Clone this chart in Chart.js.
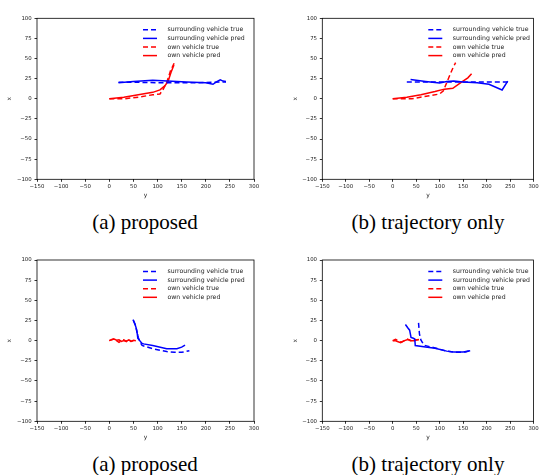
<!DOCTYPE html>
<html>
<head>
<meta charset="utf-8">
<script src="https://cdn.jsdelivr.net/npm/chart.js@4.4.1/dist/chart.umd.min.js"></script>
<style>
  body { margin: 0; background: #fff; }
  #wrap { position: relative; width: 540px; height: 475px; overflow: hidden; }
  canvas { position: absolute; }
  .cap { position: absolute; font-family: "Liberation Serif", serif; font-size: 21px; color: #000;
         transform: translate(-50%, -50%); white-space: nowrap; }
</style>
</head>
<body>
<div id="wrap">
  <canvas id="c1" width="270" height="200" style="left:0;top:0"></canvas>
  <canvas id="c2" width="270" height="200" style="left:270px;top:0"></canvas>
  <canvas id="c3" width="270" height="200" style="left:0;top:242px"></canvas>
  <canvas id="c4" width="270" height="200" style="left:270px;top:242px"></canvas>
  <div class="cap" style="left:145px;top:222px">(a) proposed</div>
  <div class="cap" style="left:428px;top:222px">(b) trajectory only</div>
  <div class="cap" style="left:145px;top:464px">(a) proposed</div>
  <div class="cap" style="left:428px;top:464px">(b) trajectory only</div>
</div>
<script>
// axis ticks (horizontal axis is "y", vertical axis is "x")
const yAxisTicks = [-150, -100, -50, 0, 50, 100, 150, 200, 250, 300];
const xAxisTicks = [-100, -75, -50, -25, 0, 25, 50, 75, 100];
const seriesNames = ['surrounding vehicle true', 'surrounding vehicle pred', 'own vehicle true', 'own vehicle pred'];

// points as [y, x]
// scenario 1, proposed
const s1PropSurrTrue = [[19, 20.5], [60, 20.5], [100, 20], [140, 20], [180, 20], [215, 20.5], [242, 21]];
const s1PropSurrPred = [[19, 20], [50, 21.5], [90, 23], [120, 22], [160, 21], [200, 20], [215, 18], [222, 21], [230, 23.5], [236, 22], [242, 21.5]];
const s1PropOwnTrue = [[0, 0], [30, 0], [60, 2], [90, 5], [105, 6], [112, 12], [120, 22], [127, 35], [135, 45]];
const s1PropOwnPred = [[0, 0], [30, 2], [60, 5], [90, 8], [105, 11], [115, 16], [122, 22], [128, 33], [134, 42]];
// scenario 1, trajectory only
const s1TrajSurrTrue = [[30, 21], [80, 21], [130, 21], [180, 21], [245, 21]];
const s1TrajSurrPred = [[38, 24], [70, 21.5], [100, 19.5], [115, 21.5], [130, 22], [150, 21], [180, 20], [205, 18], [233, 11], [245, 22]];
const s1TrajOwnTrue = [[0, 0], [40, 0], [80, 4], [100, 6], [108, 10], [115, 20], [122, 30], [128, 38], [134, 45]];
const s1TrajOwnPred = [[0, 0], [30, 2], [60, 5], [90, 9], [110, 12], [128, 13], [145, 20], [160, 26], [168, 31]];
// scenario 2, proposed
const s2PropSurrTrue = [[50, 25], [54, 19], [57, 12], [60, 4], [64, -2], [68, -6], [90, -10], [119, -13.5], [135, -14.5], [150, -14.5], [166, -12.5]];
const s2PropSurrPred = [[49, 26], [53, 21], [56, 15], [58, 8], [59, 3], [63, 0], [67, -3], [71, -4], [90, -6], [119, -10], [140, -10], [150, -8], [157, -5.5]];
const s2PropOwnTrue = [[0, 0], [5, 1], [10, 2.5], [15, 0], [20, -2], [25, 0], [30, 1], [35, -1], [40, 2], [45, -1], [50, 0], [53, 0]];
const s2PropOwnPred = [[0, 0], [5, 1.5], [10, 2], [15, 0.5], [20, 1], [25, -1], [30, 0], [35, -1], [40, 1], [45, -1], [50, 0.5], [55, 0]];
// scenario 2, trajectory only
const s2TrajSurrTrue = [[55, 22], [56, 15], [57, 8], [60, 1], [64, -3], [68, -6], [90, -9], [115, -13], [135, -14.5], [155, -14], [165, -12.5]];
const s2TrajSurrPred = [[27, 20], [32, 16], [36, 13], [39, 4], [44, 3], [47, 2], [48, -6], [70, -8], [90, -9.5], [115, -13], [130, -14], [150, -14], [165, -12.5]];
const s2TrajOwnTrue = [[0, 0], [6, 1.5], [12, 0], [18, -2], [25, 0], [30, 2], [36, 1], [42, -1], [48, 1], [55, 1]];
const s2TrajOwnPred = [[0, 0], [5, 0], [10, -1], [17, -2.5], [25, 0], [32, 1.5], [38, 0], [46, 0], [52, 1], [56, 1.5]];

const toPts = arr => arr.map(([h, v]) => ({x: h, y: v}));
const minus = v => String(v).replace('-', '\u2212');

// legend in the upper right of the plot, plus the full axes frame
const cornerLegend = {
  id: 'cornerLegend',
  afterDraw(chart) {
    const {ctx, chartArea: a} = chart;
    ctx.save();
    ctx.lineWidth = 0.8;
    ctx.strokeStyle = '#000';
    ctx.strokeRect(a.left, a.top, a.right - a.left, a.bottom - a.top);
    ctx.font = '6.2px "DejaVu Sans"';
    ctx.textBaseline = 'middle';
    chart.data.datasets.forEach((ds, i) => {
      const y = a.top + 11.5 + i * 8.6;
      const x0 = a.left + 106;
      ctx.strokeStyle = ds.borderColor;
      ctx.lineWidth = ds.borderWidth;
      ctx.setLineDash(ds.borderDash || []);
      ctx.beginPath();
      ctx.moveTo(x0, y);
      ctx.lineTo(x0 + 14, y);
      ctx.stroke();
      ctx.setLineDash([]);
      ctx.fillStyle = '#222';
      ctx.fillText(ds.label, x0 + 24.5, y);
    });
    ctx.restore();
  }
};

function makePanel(id, series, padLeft, padRight, padTop) {
  const colors = ['#0000ff', '#0000ff', '#ff0000', '#ff0000'];
  const dashes = [[5, 3], [], [5, 3], []];
  new Chart(document.getElementById(id), {
    type: 'line',
    data: {
      datasets: series.map((s, i) => ({
        label: seriesNames[i],
        data: toPts(s),
        borderColor: colors[i],
        borderWidth: 1.5,
        borderDash: dashes[i],
        pointRadius: 0,
        fill: false,
        tension: 0
      }))
    },
    options: {
      responsive: false,
      animation: false,
      layout: {padding: {left: padLeft, right: padRight, top: padTop, bottom: 0}},
      plugins: {legend: {display: false}, tooltip: {enabled: false}},
      scales: {
        x: {
          type: 'linear', min: -150, max: 300,
          afterBuildTicks: sc => { sc.ticks = yAxisTicks.map(v => ({value: v})); },
          afterFit: sc => { sc.height = 20.7; },
          grid: {drawOnChartArea: false, drawTicks: true, tickLength: 2.5, color: '#000', lineWidth: 0.8},
          border: {display: false},
          ticks: {autoSkip: false, maxRotation: 0, padding: 1.3, color: '#222',
                  font: {family: 'DejaVu Sans', size: 5.4}, callback: v => minus(v)},
          title: {display: true, text: 'y', color: '#222', padding: {top: 0, bottom: 1.2},
                  font: {family: 'DejaVu Sans', size: 6}}
        },
        y: {
          type: 'linear', min: -100, max: 100,
          afterBuildTicks: sc => { sc.ticks = xAxisTicks.map(v => ({value: v})); },
          afterFit: sc => { sc.width = 37; },
          grid: {drawOnChartArea: false, drawTicks: true, tickLength: 2.5, color: '#000', lineWidth: 0.8},
          border: {display: false},
          ticks: {autoSkip: false, padding: 2.8, color: '#222',
                  font: {family: 'DejaVu Sans', size: 5.4}, callback: v => minus(v)},
          title: {display: true, text: 'x', color: '#222', padding: {top: 6.2, bottom: 0},
                  font: {family: 'DejaVu Sans', size: 6}}
        }
      }
    },
    plugins: [cornerLegend]
  });
}

makePanel('c1', [s1PropSurrTrue, s1PropSurrPred, s1PropOwnTrue, s1PropOwnPred], 0, 16, 18.3);
makePanel('c2', [s1TrajSurrTrue, s1TrajSurrPred, s1TrajOwnTrue, s1TrajOwnPred], 15.3, 0.7, 18.3);
makePanel('c3', [s2PropSurrTrue, s2PropSurrPred, s2PropOwnTrue, s2PropOwnPred], 0, 16, 18);
makePanel('c4', [s2TrajSurrTrue, s2TrajSurrPred, s2TrajOwnTrue, s2TrajOwnPred], 15.3, 0.7, 18);
</script>
</body>
</html>
